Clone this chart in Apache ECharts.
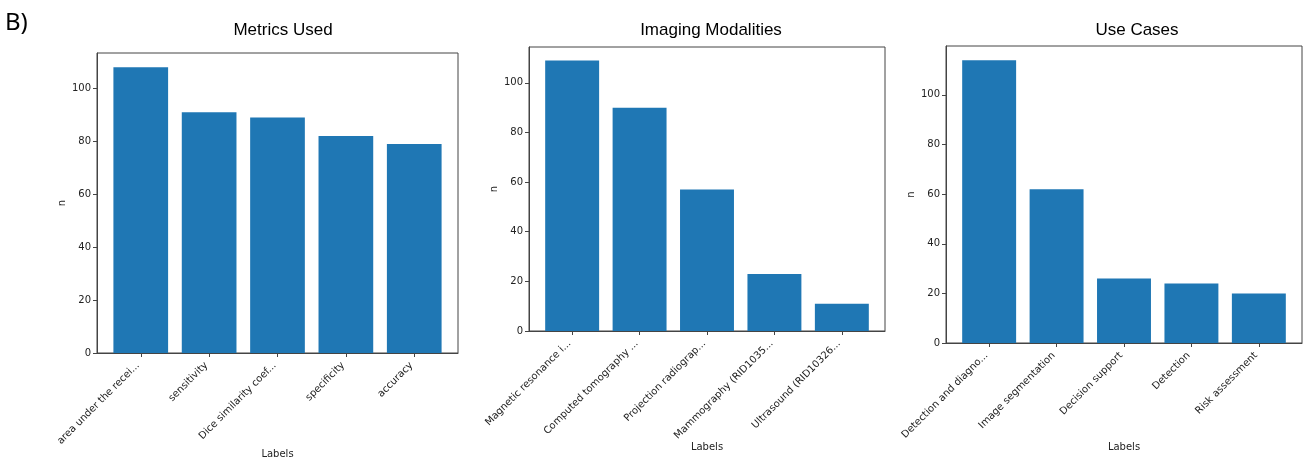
<!DOCTYPE html>
<html>
<head>
<meta charset="utf-8">
<script src="https://cdn.jsdelivr.net/npm/echarts@6/dist/echarts.min.js"></script>
<style>
  html, body { margin: 0; padding: 0; background: #fff; }
  #chart { width: 1307px; height: 466px; }
</style>
</head>
<body>
<div id="chart"></div>
<script>
// ---- data ----
const panelTitles = ['Metrics Used', 'Imaging Modalities', 'Use Cases'];
const metricsLabels = ['area under the recei...', 'sensitivity', 'Dice similarity coef...', 'specificity', 'accuracy'];
const metricsValues = [108, 91, 89, 82, 79];
const modalityLabels = ['Magnetic resonance i...', 'Computed tomography ...', 'Projection radiograp...', 'Mammography (RID1035...', 'Ultrasound (RID10326...'];
const modalityValues = [109, 90, 57, 23, 11];
const useCaseLabels = ['Detection and diagno...', 'Image segmentation', 'Decision support', 'Detection', 'Risk assessment'];
const useCaseValues = [114, 62, 26, 24, 20];
const yTicks = [0, 20, 40, 60, 80, 100];
const xAxisName = 'Labels';
const yAxisName = 'n';
const panelLetter = 'B)';

// ---- layout ----
const grids = [
  { left: 97, top: 53, width: 361, height: 300 },
  { left: 529, top: 47, width: 356, height: 284 },
  { left: 946, top: 46, width: 356, height: 297 }
];
const titleCenters = [278, 706, 1132];
const xNameGaps = [96, 111, 99];
const panels = [
  { labels: metricsLabels, values: metricsValues },
  { labels: modalityLabels, values: modalityValues },
  { labels: useCaseLabels, values: useCaseValues }
];

const barColor = '#1f77b4';
const axisColor = '#444';
const textColor = '#222';
const tickFont = 'DejaVu Sans';

const option = {
  animation: false,
  backgroundColor: '#fff',
  title: [
    { text: panelLetter, left: 0, top: 6, textStyle: { fontFamily: 'Noto Sans', fontSize: 24, fontWeight: 'normal', color: '#000' } }
  ].concat(panelTitles.map((t, i) => ({
    text: t, left: titleCenters[i], top: 17, textAlign: 'center',
    textStyle: { fontFamily: 'Liberation Sans', fontSize: 17, fontWeight: 'normal', color: '#000' }
  }))),
  grid: grids.map(g => Object.assign({
    show: true, borderColor: axisColor, borderWidth: 1, backgroundColor: 'transparent', containLabel: false
  }, g)),
  xAxis: panels.map((p, i) => {
    const n = p.labels.length;
    const span = (n - 1) + 0.8;
    const idx = p.labels.map((_, k) => k);
    return {
      type: 'value', gridIndex: i, z: 5,
      min: -0.4 - 0.05 * span, max: (n - 1) + 0.4 + 0.05 * span,
      splitLine: { show: false },
      axisLine: { show: true, onZero: false, lineStyle: { color: axisColor, width: 1 } },
      axisTick: { show: true, customValues: idx, length: 4, lineStyle: { color: axisColor } },
      axisLabel: {
        customValues: idx, rotate: 45, margin: 8,
        fontFamily: tickFont, fontSize: 10, color: textColor, padding: [0, 4, 0, 0],
        formatter: v => p.labels[Math.round(v)]
      },
      name: xAxisName, nameLocation: 'middle', nameGap: xNameGaps[i], nameMoveOverlap: false,
      nameTextStyle: { fontFamily: tickFont, fontSize: 10, color: textColor }
    };
  }),
  yAxis: panels.map((p, i) => ({
    type: 'value', gridIndex: i, z: 5,
    min: 0, max: v => v.max * 1.05,
    splitLine: { show: false },
    axisLine: { show: true, onZero: false, lineStyle: { color: axisColor, width: 1 } },
    axisTick: { show: true, customValues: yTicks, length: 4, lineStyle: { color: axisColor } },
    axisLabel: { customValues: yTicks, margin: 6, fontFamily: tickFont, fontSize: 10, color: textColor },
    name: yAxisName, nameLocation: 'middle', nameGap: 30, nameMoveOverlap: false,
    nameTextStyle: { fontFamily: tickFont, fontSize: 10, color: textColor }
  })),
  series: panels.map((p, i) => ({
    type: 'bar', xAxisIndex: i, yAxisIndex: i,
    barWidth: '80%',
    itemStyle: { color: barColor },
    data: p.values.map((v, k) => [k, v])
  }))
};

const chart = echarts.init(document.getElementById('chart'), null, { renderer: 'canvas' });
chart.setOption(option);
</script>
</body>
</html>
